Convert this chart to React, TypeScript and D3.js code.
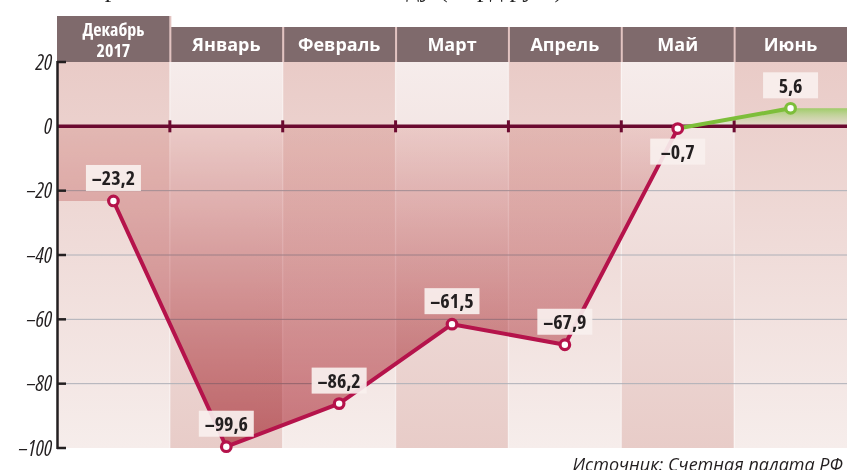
import React from "react";
import * as d3 from "d3";

const months = ["Декабрь 2017", "Январь", "Февраль", "Март", "Апрель", "Май", "Июнь"];
const headerLines = [["Декабрь", "2017"], ["Январь"], ["Февраль"], ["Март"], ["Апрель"], ["Май"], ["Июнь"]];
const values = [-23.2, -99.6, -86.2, -61.5, -67.9, -0.7, 5.6];
const valueLabels = ["–23,2", "–99,6", "–86,2", "–61,5", "–67,9", "–0,7", "5,6"];
const yTicks = [20, 0, -20, -40, -60, -80, -100];
const yTickLabels = ["20", "0", "–20", "–40", "–60", "–80", "–100"];
const gridTicks = [-20, -40, -60, -80];
const sourceText = "Источник: Счетная палата РФ";

const W = 847;
const H = 470;
const SANS = "'Open Sans','Noto Sans',sans-serif";

export default function App() {
  const left = 57;
  const x = d3.scaleBand<string>().domain(months).range([left, W]).padding(0);
  const y = d3.scaleLinear().domain([-100, 20]).range([448, 62]);
  const bw = x.bandwidth();
  const cx = (i: number) => (x(months[i]) as number) + bw / 2;
  const y0 = y(0);

  type P = [number, number];
  const redPts: P[] = values.slice(0, 6).map((v, i) => [cx(i), y(v)]);
  const greenPts: P[] = values.slice(5).map((v, i) => [cx(i + 5), y(v)]);
  const redAreaPts: P[] = [[left, y(values[0])], ...redPts];
  const greenAreaPts: P[] = [...greenPts, [W, y(values[6])]];

  const line = d3.line<P>().x(d => d[0]).y(d => d[1]);
  const area = d3.area<P>().x(d => d[0]).y0(y0).y1(d => d[1]);

  const boundaries = months.slice(1).map(m => x(m) as number);

  return (
    <svg width={W} height={H} style={{ position: "absolute", left: 0, top: 0 }}>
      <defs>
        <linearGradient id="stripeA" gradientUnits="userSpaceOnUse" x1="0" y1={y(20)} x2="0" y2={y(-100)}>
          <stop offset="0" stopColor="#e9cbc7" />
          <stop offset="1" stopColor="#f6edeb" />
        </linearGradient>
        <linearGradient id="stripeB" gradientUnits="userSpaceOnUse" x1="0" y1={y(20)} x2="0" y2={y(-100)}>
          <stop offset="0" stopColor="#f6eceb" />
          <stop offset="1" stopColor="#e8ccc8" />
        </linearGradient>
        <linearGradient id="redArea" gradientUnits="userSpaceOnUse" x1="0" y1={y0} x2="0" y2={y(-100)}>
          <stop offset="0" stopColor="rgb(246,224,222)" />
          <stop offset="1" stopColor="rgb(206,122,130)" />
        </linearGradient>
        <linearGradient id="greenArea" gradientUnits="userSpaceOnUse" x1="0" y1={y(values[6])} x2="0" y2={y0}>
          <stop offset="0" stopColor="#9bcb63" stopOpacity="0.95" />
          <stop offset="1" stopColor="#d6e3c2" stopOpacity="0.3" />
        </linearGradient>
      </defs>

      {/* partial title cut at top */}
      <text x={86} y={-3} fontFamily="'Liberation Serif','DejaVu Serif',serif" fontSize={26} fill="#222">
        Пр
      </text>
      <text x={384} y={-3} fontFamily="'Liberation Serif','DejaVu Serif',serif" fontSize={26} fill="#222">
        году (млрд руб.)
      </text>

      {/* stripes */}
      {months.map((m, i) => (
        <rect key={m} x={x(m)} y={y(20)} width={bw} height={y(-100) - y(20)} fill={i % 2 === 0 ? "url(#stripeA)" : "url(#stripeB)"} />
      ))}
      {boundaries.map((b, i) => (
        <line key={i} x1={b} x2={b} y1={y(20)} y2={y(-100)} stroke="#ffffff" strokeOpacity={0.4} strokeWidth={1.5} />
      ))}

      {/* grid */}
      {gridTicks.map(t => (
        <line key={t} x1={left} x2={W} y1={y(t)} y2={y(t)} stroke="#aeb0b8" strokeWidth={1} />
      ))}

      {/* areas */}
      <path d={area(redAreaPts) || ""} fill="url(#redArea)" style={{ mixBlendMode: "multiply" }} />
      <path d={area(greenAreaPts) || ""} fill="url(#greenArea)" />

      {/* header */}
      {months.map((m, i) => {
        const top = i === 0 ? 16 : 27;
        return <rect key={m} x={x(m)} y={top} width={bw} height={y(20) - top} fill="#7f6a6c" />;
      })}
      {boundaries.map((b, i) => (
        <line key={i} x1={b + 0.5} x2={b + 0.5} y1={i === 0 ? 16 : 27} y2={y(20)} stroke="#e2c3c1" strokeWidth={2} />
      ))}
      {months.map((m, i) => {
        const lines = headerLines[i];
        const c = cx(i);
        if (lines.length === 2) {
          return (
            <text key={m} textAnchor="middle" fontFamily={SANS} fontStretch="semi-condensed" fontWeight="bold" fontSize={18} fill="#ffffff">
              <tspan x={c} y={36}>{lines[0]}</tspan>
              <tspan x={c} y={57}>{lines[1]}</tspan>
            </text>
          );
        }
        return (
          <text key={m} x={c} y={51} textAnchor="middle" fontFamily={SANS} fontWeight="bold" fontSize={18} fill="#ffffff">
            {lines[0]}
          </text>
        );
      })}

      {/* zero line */}
      <line x1={left} x2={W} y1={y0} y2={y0} stroke="#6b0a30" strokeWidth={3.5} />
      {boundaries.map((b, i) => (
        <line key={i} x1={b} x2={b} y1={y0 - 6} y2={y0 + 6} stroke="#6b0a30" strokeWidth={3} />
      ))}

      {/* y axis */}
      <line x1={left + 0.5} x2={left + 0.5} y1={y(20) - 1} y2={y(-100) + 1} stroke="#231f20" strokeWidth={2.5} />
      {yTicks.map((t, i) => (
        <g key={t}>
          {t !== 0 && <line x1={left} x2={left + 9} y1={y(t)} y2={y(t)} stroke="#231f20" strokeWidth={2.5} />}
          <text x={52} y={y(t)} dy="0.36em" textAnchor="end" fontFamily={SANS} fontStretch="semi-condensed" fontStyle="italic" fontSize={21} fill="#231f20">
            {yTickLabels[i]}
          </text>
        </g>
      ))}

      {/* lines */}
      <path d={line(redPts) || ""} fill="none" stroke="#b5134b" strokeWidth={4} strokeLinejoin="round" />
      <path d={line(greenPts) || ""} fill="none" stroke="#7dbe3a" strokeWidth={4} strokeLinejoin="round" />

      {values.map((v, i) => (
        <circle key={i} cx={cx(i)} cy={y(v)} r={4.8} fill="#ffffff" stroke={i === 6 ? "#7dbe3a" : "#b5134b"} strokeWidth={3.2} />
      ))}

      {/* value labels */}
      {values.map((v, i) => {
        const below = i === 5;
        const bh = 26;
        const bwid = 55;
        const py = y(v);
        const by = below ? py + 10 : py - 10 - bh;
        return (
          <g key={i}>
            <rect x={cx(i) - bwid / 2} y={by} width={bwid} height={bh} fill="#f8f0ee" fillOpacity={0.92} />
            <text x={cx(i)} y={by + bh / 2} dy="0.36em" textAnchor="middle" fontFamily={SANS} fontStretch="condensed" fontWeight="bold" fontSize={20} fill="#231f20">
              {valueLabels[i]}
            </text>
          </g>
        );
      })}

      {/* source */}
      <text x={843} y={471} textAnchor="end" fontFamily={SANS} fontStyle="italic" fontSize={18} fill="#231f20">
        {sourceText}
      </text>
    </svg>
  );
}
